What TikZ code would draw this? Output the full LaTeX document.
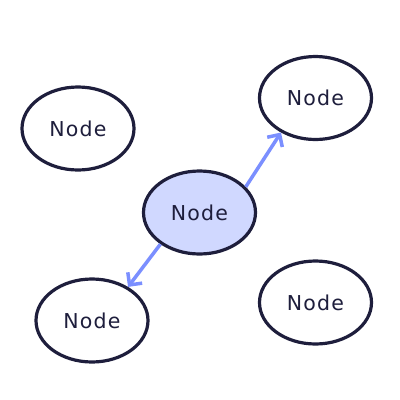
\documentclass[tikz,border=0pt]{standalone}
\usepackage{fontspec}
\setmainfont{DejaVu Sans}[LetterSpace=6]
\usetikzlibrary{shapes.geometric,arrows.meta}
\definecolor{ink}{HTML}{1E1E3C}
\definecolor{arr}{HTML}{7B8FFF}
\definecolor{hl}{HTML}{D0D8FF}
\tikzset{
  bubble/.style={ellipse, draw=ink, line width=3.2bp, fill=white, minimum width=112bp, minimum height=83bp, inner sep=0pt, text=ink, font=\fontsize{20.5bp}{22bp}\selectfont},
  hot/.style={bubble, fill=hl},
  link/.style={draw=arr, line width=3.5bp, -{Straight Barb[length=9bp,width=18bp,line width=3.5bp]}}
}
\begin{document}
\begin{tikzpicture}[x=1bp,y=-1bp]
\useasboundingbox (0,0) rectangle (400,400);
\node[bubble] (tl) at (78,128.5) {Node};
\node[bubble] (tr) at (315.5,98) {Node};
\node[hot] (c) at (199.5,212.5) {Node};
\node[bubble] (bl) at (92,320.5) {Node};
\node[bubble] (br) at (315.5,302.5) {Node};
\draw[link] (c.29) -- (tr.225);
\draw[link] (c.219) -- (bl.43);
\end{tikzpicture}
\end{document}
